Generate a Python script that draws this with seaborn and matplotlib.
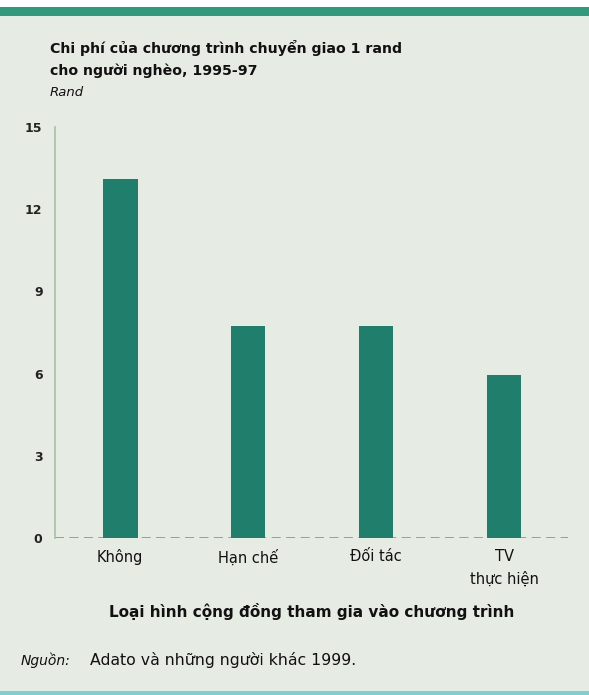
import matplotlib
matplotlib.use("Agg")
import matplotlib.pyplot as plt
import seaborn as sns
import pandas as pd
from matplotlib.patches import Rectangle

# Data
categories = ["Không", "Hạn chế", "Đối tác", "TV\nthực hiện"]
cost_rand = [13.1, 7.75, 7.75, 5.95]
y_ticks = [0, 3, 6, 9, 12, 15]

title_line1 = "Chi phí của chương trình chuyển giao 1 rand"
title_line2 = "cho người nghèo, 1995-97"
unit_label = "Rand"
x_title = "Loại hình cộng đồng tham gia vào chương trình"
source_label = "Nguồn:"
source_text = "Adato và những người khác 1999."

sns.set_theme(style="white")
plt.rcParams["font.family"] = ["DejaVu Sans"]

bg = "#e6ece3"
bar_color = "#1f7f6c"
ink = "#111111"

W, H = 589, 695
fig = plt.figure(figsize=(W / 100, H / 100), dpi=100)
fig.patch.set_facecolor("white")

# Panel background and decorative strips
fig.patches.append(Rectangle((0, 3 / H), 1, (688 - 3) / H, transform=fig.transFigure,
                             facecolor=bg, edgecolor="none", zorder=-3))
fig.patches.append(Rectangle((0, (H - 16) / H), 1, 9 / H, transform=fig.transFigure,
                             facecolor="#2f9a7c", edgecolor="none", zorder=-2))
fig.patches.append(Rectangle((0, 0), 1, 4 / H, transform=fig.transFigure,
                             facecolor="#7fd0d0", edgecolor="none", zorder=-2))

ax = fig.add_axes([55 / W, (H - 538) / H, (568 - 55) / W, (538 - 127) / H])
ax.set_facecolor("none")

df = pd.DataFrame({"category": categories, "cost": cost_rand})
sns.barplot(data=df, x="category", y="cost", color=bar_color, width=0.27,
            saturation=1, ax=ax, zorder=3, edgecolor="none", linewidth=0)

ax.set_xlim(-0.51, 3.5)
ax.set_ylim(0, 15)
ax.set_yticks(y_ticks)
ax.set_yticklabels([str(t) for t in y_ticks], fontsize=9, fontweight="bold", color="#222222")
ax.set_xticks(range(len(categories)))
ax.set_xticklabels(categories, fontsize=10.5, color=ink, va="top", linespacing=1.6)
ax.tick_params(axis="x", length=0, pad=8)
ax.tick_params(axis="y", length=0, pad=9)
ax.set_xlabel("")
ax.set_ylabel("")

for side in ["top", "right", "bottom"]:
    ax.spines[side].set_visible(False)
ax.spines["left"].set_color("#a8bfa8")
ax.spines["left"].set_linewidth(1.2)

# dashed baseline at zero
ax.axhline(0, color="#5aa8d8", lw=1.3, ls=(0, (5, 3)), zorder=2)

# Titles and notes
fig.text(50 / W, 1 - 48 / H, title_line1, fontsize=10.2, fontweight="bold",
         va="center", ha="left", color=ink)
fig.text(50 / W, 1 - 71 / H, title_line2, fontsize=10.2, fontweight="bold",
         va="center", ha="left", color=ink)
fig.text(50 / W, 1 - 93 / H, unit_label, fontsize=9.5, fontstyle="italic",
         va="center", ha="left", color=ink)
fig.text(312 / W, 1 - 612 / H, x_title, fontsize=11, fontweight="bold",
         va="center", ha="center", color=ink)
fig.text(21 / W, 1 - 660 / H, source_label, fontsize=10, fontstyle="italic",
         va="center", ha="left", color=ink)
fig.text(90 / W, 1 - 660 / H, source_text, fontsize=11.3,
         va="center", ha="left", color=ink)

fig.savefig("out.png", dpi=100, facecolor=fig.get_facecolor())
